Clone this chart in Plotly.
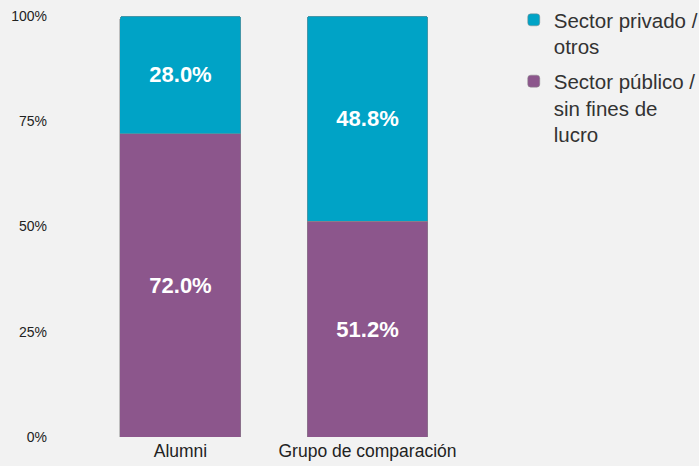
import plotly.graph_objects as go

categorias = ["Alumni", "Grupo de comparación"]
publico = [72.0, 51.2]
privado = [28.0, 48.8]
ticks_y = [0, 25, 50, 75, 100]
ticks_txt = ["0%", "25%", "50%", "75%", "100%"]

fig = go.Figure()
fig.add_trace(go.Bar(x=categorias, y=publico, name="Sector público /<br>sin fines de<br>lucro",
                     legendgroup="publico", legendrank=2,
                     marker=dict(color="#8c568c", line=dict(color="#8a8a8a", width=0.5)),
                     text=[f"<b>{v:.1f}%</b>" for v in publico], textposition="inside",
                     insidetextanchor="middle",
                     textfont=dict(color="white", size=22, family="Liberation Sans, Arial")))
fig.add_trace(go.Bar(x=categorias, y=privado, name="Sector privado /<br>otros",
                     legendgroup="privado", legendrank=1,
                     marker=dict(color="#00a3c6", line=dict(color="#8a8a8a", width=0.5)),
                     text=[f"<b>{v:.1f}%</b>" for v in privado], textposition="inside",
                     insidetextanchor="middle",
                     textfont=dict(color="white", size=22, family="Liberation Sans, Arial")))

fig.update_layout(
    width=699, height=466, barmode="stack", bargap=0.353, barcornerradius=3,
    paper_bgcolor="#f2f2f2", plot_bgcolor="#f2f2f2",
    font=dict(family="Liberation Sans, Arial", size=14, color="#222222"),
    margin=dict(l=55, r=238, t=16, b=29, autoexpand=False),
    uniformtext=dict(mode="show", minsize=22),
    legend=dict(xref="container", yref="container", x=0.735, y=1.0,
                xanchor="left", yanchor="top", traceorder="grouped", valign="top",
                font=dict(size=20.5, color="#333333"), tracegroupgap=5,
                bgcolor="rgba(0,0,0,0)"),
)
fig.update_yaxes(range=[0, 100], tickvals=ticks_y, ticktext=ticks_txt, showgrid=False,
                 zeroline=False, showline=False, ticklabelstandoff=7,
                 tickfont=dict(size=14))
fig.update_xaxes(range=[-0.671, 1.5], showgrid=False, showline=False,
                 tickfont=dict(size=17.5), ticklabelstandoff=1)

fig.write_html("out.html", config={"displayModeBar": False},
               post_script="document.body.style.margin='0';document.body.style.background='#f2f2f2';")
